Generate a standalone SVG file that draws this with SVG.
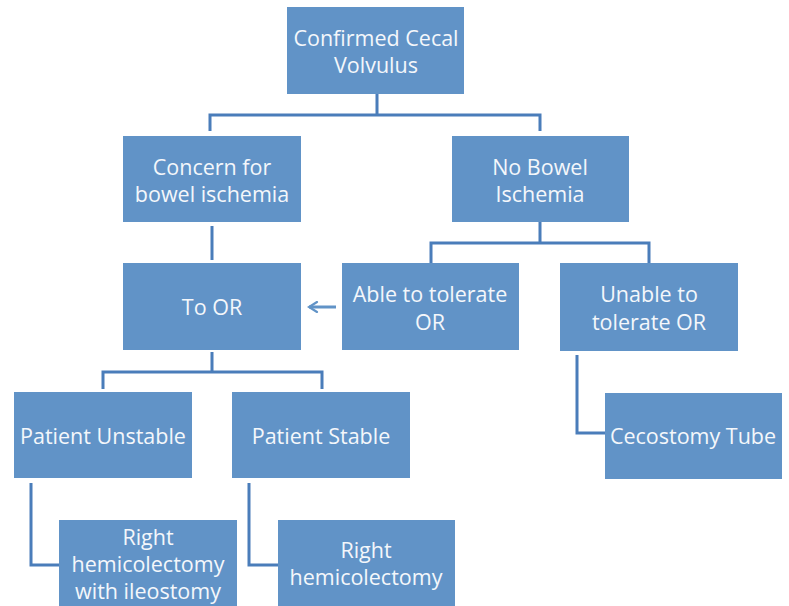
<svg xmlns="http://www.w3.org/2000/svg" width="789" height="606" viewBox="0 0 789 606">
<defs>
<style>
.box{fill:#6193c7;}
.t{font-family:"Open Sans","Liberation Sans",sans-serif;font-size:21.5px;fill:#f4f7fb;text-anchor:middle;}
.c{fill:none;stroke:#4a7dba;stroke-width:3;}
</style>
<marker id="ah" viewBox="0 0 12 12" refX="10" refY="6" markerWidth="4" markerHeight="4" orient="auto" markerUnits="strokeWidth"><path d="M2,1 L10,6 L2,11" fill="none" stroke="#6193c7" stroke-width="2.2" stroke-linecap="round"/></marker>
</defs>
<rect width="789" height="606" fill="#ffffff"/>
<g id="connectors">
<path class="c" d="M377,94 V115 M210,131 V115 H540 V131"/>
<path class="c" d="M212,226 V260"/>
<path class="c" d="M540,222 V243 M431,263 V243 H649 V263"/>
<path class="c" d="M212,352 V372 M103,389 V372 H322 V389"/>
<path class="c" d="M577,355 V433 H605"/>
<path class="c" d="M31,483 V565 H59"/>
<path class="c" d="M249,483 V565 H278"/>
<path d="M336,307 H309" fill="none" stroke="#6193c7" stroke-width="3" marker-end="url(#ah)"/>
</g>
<g id="n1"><rect class="box" x="287" y="7" width="177" height="87"/><text class="t" x="376" y="46">Confirmed Cecal</text><text class="t" x="376" y="73">Volvulus</text></g>
<g id="n2"><rect class="box" x="123" y="136" width="178" height="86"/><text class="t" x="212" y="175">Concern for</text><text class="t" x="212" y="202">bowel ischemia</text></g>
<g id="n3"><rect class="box" x="452" y="136" width="177" height="86"/><text class="t" x="540" y="175">No Bowel</text><text class="t" x="540" y="202">Ischemia</text></g>
<g id="n4"><rect class="box" x="123" y="263" width="178" height="87"/><text class="t" x="212" y="315">To OR</text></g>
<g id="n5"><rect class="box" x="342" y="263" width="177" height="87"/><text class="t" x="430" y="302">Able to tolerate</text><text class="t" x="430" y="330">OR</text></g>
<g id="n6"><rect class="box" x="560" y="263" width="178" height="88"/><text class="t" x="649" y="302">Unable to</text><text class="t" x="649" y="330">tolerate OR</text></g>
<g id="n7"><rect class="box" x="14" y="392" width="178" height="86"/><text class="t" x="103" y="444">Patient Unstable</text></g>
<g id="n8"><rect class="box" x="232" y="392" width="178" height="86"/><text class="t" x="321" y="444">Patient Stable</text></g>
<g id="n9"><rect class="box" x="605" y="393" width="177" height="86"/><text class="t" x="693" y="444">Cecostomy Tube</text></g>
<g id="n10"><rect class="box" x="59" y="520" width="178" height="90"/><text class="t" x="148" y="545">Right</text><text class="t" x="148" y="572">hemicolectomy</text><text class="t" x="148" y="599">with ileostomy</text></g>
<g id="n11"><rect class="box" x="278" y="520" width="177" height="90"/><text class="t" x="366" y="558">Right</text><text class="t" x="366" y="585">hemicolectomy</text></g>
</svg>
